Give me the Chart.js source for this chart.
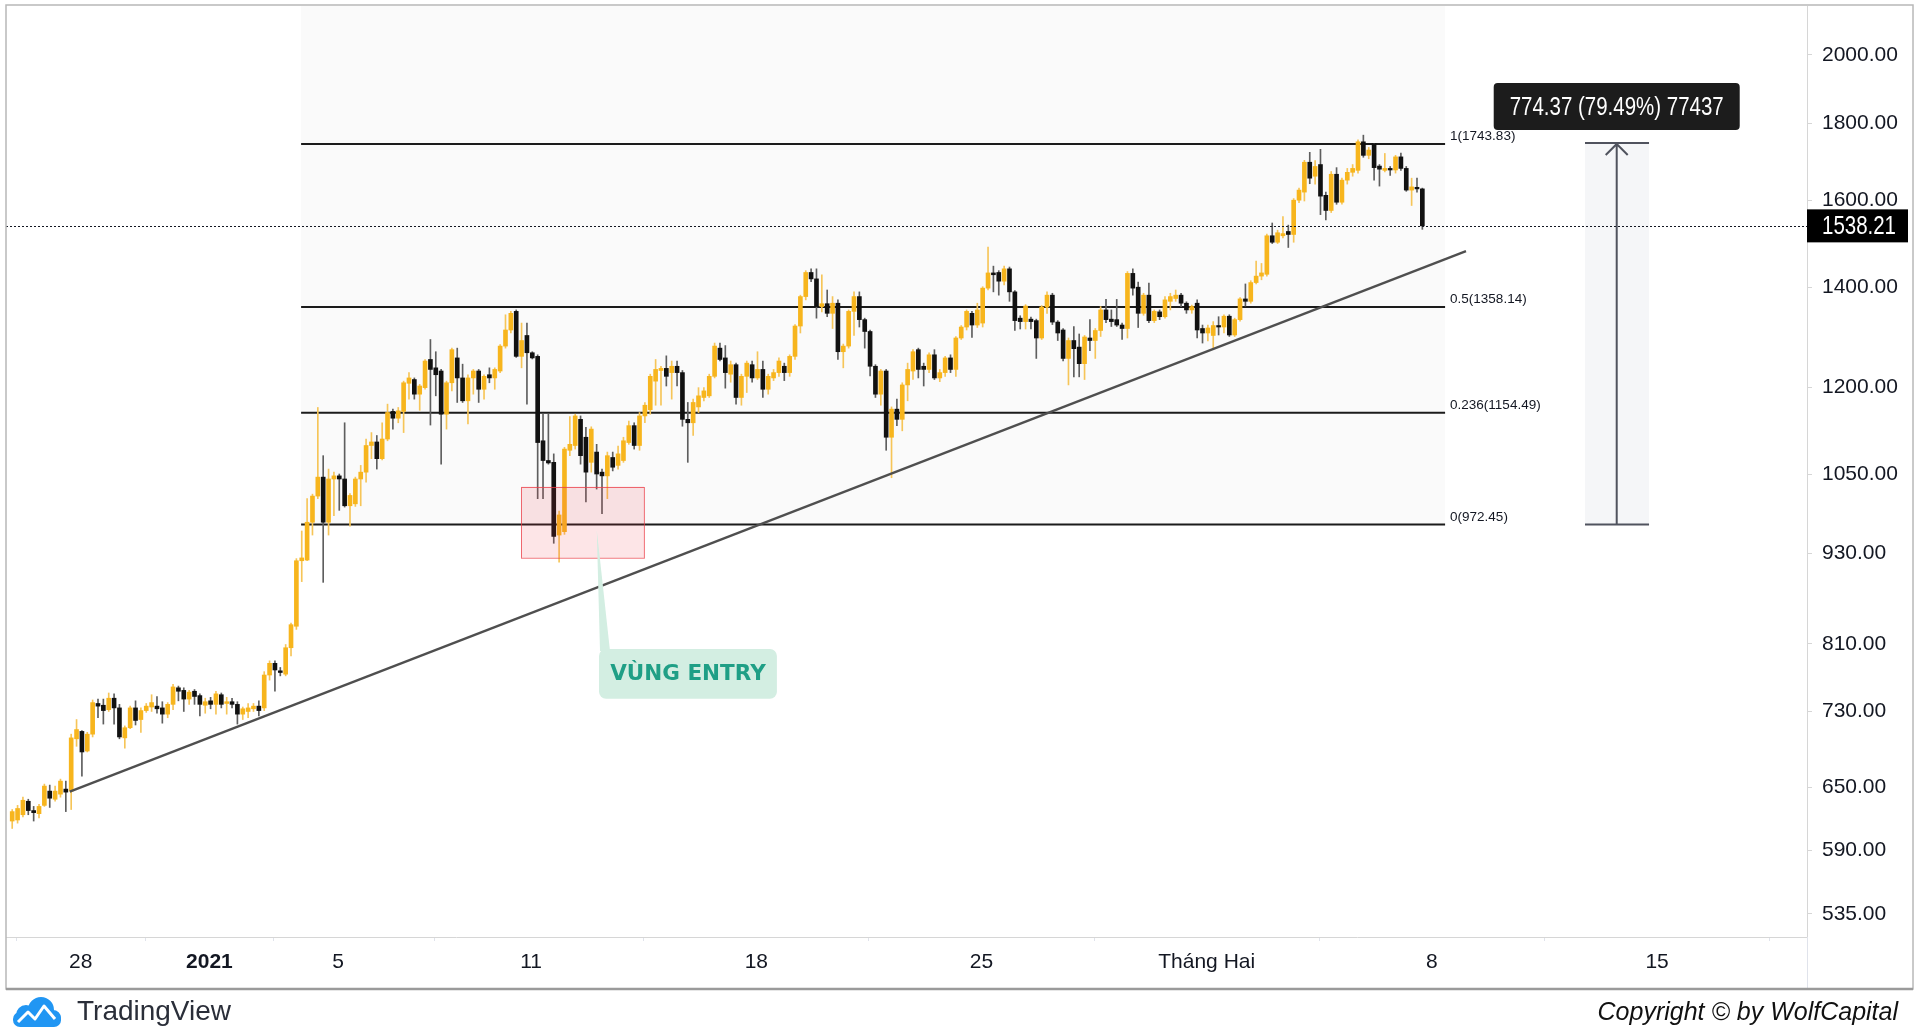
<!DOCTYPE html>
<html>
<head>
<meta charset="utf-8">
<script src="https://cdn.jsdelivr.net/npm/chart.js@4.4.1/dist/chart.umd.min.js"></script>
<style>
    html, body { margin: 0; padding: 0; background: #fff; overflow: hidden; }
    canvas { display: block; }
</style>
</head>
<body>
<canvas id="myChart" width="1920" height="1035" style="width:1920px;height:1035px"></canvas>
<script>
// 4H candles, 25 Dec 2020 -> 7 Feb 2021
const opens = [
    617,618,623,636,627,624,632,646,638,643, 648,646,700,708,687,705,739,737,732,745,
    734,701,712,734,721,731,735,736,734,727, 738,757,754,744,753,748,737,742,738,749,
    739,741,738,727,730,733,736,734,772,786, 777,773,805,832,920,921,976,1016,1046,976,
    1043,1048,1043,1001,1004,1043,1054,1098,1104,1076, 1109,1157,1145,1157,1208,1215,1188,1200,1253,1237,
    1231,1152,1209,1256,1218,1176,1218,1231,1197,1224, 1218,1231,1279,1311,1349,1259,1300,1266,1259,1106,
    1073,1070,957,962,1090,1098,1143,1112,1070,1087, 1054,1048,1078,1065,1073,1103,1132,1098,1149,1160,
    1212,1232,1236,1228,1240,1228,1143,1137,1165,1182, 1185,1221,1275,1256,1225,1243,1182,1221,1243,1218,
    1234,1197,1218,1228,1240,1228,1259,1319,1380,1432, 1418,1359,1365,1345,1366,1268,1279,1349,1380,1332,
    1308,1240,1188,1231,1112,1161,1143,1205,1231,1272, 1240,1234,1262,1218,1228,1256,1234,1295,1317,1345,
    1321,1325,1398,1431,1432,1413,1440,1390,1335,1328, 1333,1330,1295,1358,1383,1327,1311,1255,1290,1277,
    1245,1295,1290,1310,1352,1333,1332,1321,1314,1430, 1400,1345,1383,1330,1348,1338,1370,1376,1383,1366,
    1352,1366,1314,1305,1300,1320,1317,1339,1301,1332, 1375,1370,1410,1424,1428,1515,1500,1515,1525,1518,
    1600,1620,1696,1660,1690,1612,1575,1665,1595,1650, 1670,1675,1750,1714,1745,1686,1675,1680,1676,1710,
    1680,1625,1632,1628
];
const highs = [
    628,632,640,638,631,633,653,652,651,658, 656,705,721,709,707,743,744,744,751,750,
    738,714,736,742,734,739,749,747,741,740, 761,759,757,754,755,750,745,746,753,751,
    746,745,741,735,739,739,742,776,789,789, 781,809,836,923,963,1012,1019,1164,1081,1059,
    1054,1051,1137,1020,1046,1065,1109,1120,1115,1137, 1170,1161,1164,1212,1228,1218,1206,1253,1292,1268,
    1234,1212,1275,1275,1244,1224,1234,1234,1224,1237, 1237,1282,1342,1349,1352,1325,1325,1268,1262,1152,
    1152,1084,993,1095,1148,1152,1149,1129,1130,1100, 1059,1087,1087,1097,1112,1140,1137,1155,1173,1225,
    1253,1240,1260,1250,1250,1232,1173,1179,1200,1200, 1225,1285,1285,1280,1250,1246,1225,1250,1250,1268,
    1250,1225,1234,1256,1246,1262,1322,1383,1436,1440, 1440,1427,1394,1380,1373,1283,1352,1390,1390,1335,
    1311,1243,1234,1234,1165,1179,1209,1246,1272,1275, 1246,1266,1272,1234,1259,1262,1298,1320,1352,1349,
    1366,1401,1489,1446,1436,1446,1444,1393,1340,1363, 1337,1333,1361,1390,1387,1330,1314,1295,1318,1303,
    1300,1332,1314,1359,1374,1352,1374,1325,1434,1440, 1411,1387,1409,1352,1352,1380,1387,1394,1387,1369,
    1362,1373,1321,1321,1328,1338,1342,1342,1335,1378, 1407,1414,1457,1452,1519,1545,1528,1560,1540,1604,
    1630,1701,1722,1700,1730,1620,1672,1682,1655,1680, 1690,1755,1768,1735,1746,1690,1719,1685,1714,1720,
    1685,1655,1655,1630
];
const lows = [
    610,615,621,623,617,620,631,630,636,640, 626,628,692,661,686,702,723,716,730,716,
    700,690,711,715,707,729,730,728,717,723, 732,742,730,738,738,725,728,733,727,734,
    727,734,716,721,723,730,725,731,766,753, 771,771,795,828,891,920,957,1012,890,957,
    986,994,999,970,1000,1001,1038,1076,1059,1074, 1106,1126,1137,1120,1179,1179,1159,1197,1133,1185,
    1067,1126,1194,1173,1173,1135,1188,1173,1179,1209, 1197,1228,1275,1305,1257,1237,1170,1254,1012,1012,
    1067,945,918,958,1081,1092,1067,1007,1054,1027, 989,1012,1056,1059,1070,1100,1092,1090,1137,1152,
    1168,1168,1203,1179,1203,1131,1070,1115,1155,1176, 1182,1218,1250,1199,1210,1170,1168,1191,1210,1215,
    1182,1188,1213,1221,1213,1221,1253,1305,1373,1412, 1335,1348,1338,1314,1253,1237,1275,1300,1317,1275,
    1222,1182,1168,1090,1045,1132,1123,1176,1215,1218, 1203,1228,1215,1211,1221,1228,1221,1292,1311,1296,
    1316,1317,1394,1390,1383,1405,1370,1310,1313,1313, 1313,1255,1292,1345,1322,1290,1250,1205,1220,1220,
    1215,1270,1255,1298,1326,1318,1318,1292,1295,1383, 1316,1341,1326,1326,1332,1335,1352,1370,1359,1345,
    1345,1295,1285,1289,1272,1301,1305,1298,1298,1329, 1360,1366,1407,1416,1424,1497,1497,1510,1488,1500,
    1594,1598,1641,1640,1565,1552,1570,1590,1590,1640, 1660,1668,1709,1705,1650,1635,1671,1662,1668,1675,
    1622,1587,1620,1530
];
const closes = [
    626,629,637,627,625,631,651,639,646,656, 645,701,710,686,705,740,736,731,745,734,
    702,712,734,720,731,736,740,733,727,738, 758,753,744,752,747,738,741,738,750,738,
    741,738,727,733,734,736,731,772,786,778, 775,805,834,920,924,976,1016,1046,976,1043,
    1048,1043,1001,1017,1043,1054,1098,1104,1076,1109, 1155,1145,1158,1209,1218,1188,1203,1250,1234,1224,
    1152,1209,1272,1218,1176,1218,1231,1197,1221,1218, 1234,1279,1311,1345,1259,1290,1266,1256,1103,1073,
    1069,955,987,1092,1100,1149,1081,1054,1126,1051, 1048,1081,1062,1084,1106,1132,1098,1149,1168,1221,
    1234,1236,1221,1240,1228,1143,1137,1173,1185,1194, 1221,1279,1253,1228,1243,1182,1221,1246,1218,1234,
    1197,1221,1228,1250,1228,1259,1319,1380,1432,1418, 1359,1365,1345,1366,1268,1279,1349,1380,1332,1308,
    1240,1188,1231,1112,1161,1143,1205,1234,1268,1234, 1234,1262,1218,1228,1256,1234,1295,1317,1349,1321,
    1352,1398,1431,1427,1413,1440,1390,1330,1328,1360, 1328,1295,1358,1383,1327,1305,1255,1290,1274,1245,
    1297,1290,1310,1352,1332,1328,1321,1314,1430,1398, 1345,1383,1330,1349,1338,1373,1380,1383,1366,1352,
    1359,1311,1305,1315,1320,1317,1339,1301,1332,1375, 1370,1410,1424,1431,1515,1500,1522,1520,1518,1600,
    1625,1696,1655,1685,1610,1575,1665,1595,1650,1670, 1680,1750,1714,1728,1682,1678,1680,1676,1710,1680,
    1625,1633,1628,1538.21
];

// time axis in days from 1 Jan 2021, one candle every 4 hours
const firstCandleDay = -6.13;
const candleStep = 1 / 6;
const candleDays = opens.map((_, i) => firstCandleDay + i * candleStep);

const priceTicks = [535, 590, 650, 730, 810, 930, 1050, 1200, 1400, 1600, 1800, 2000];
const dateTickDays = [-4, 0, 4, 10, 17, 24, 31, 38, 45];
const dateTickLabels = ['28', '2021', '5', '11', '18', '25', 'Tháng Hai', '8', '15'];

// drawings
const fibRatios = ['1', '0.5', '0.236', '0'];
const fibPrices = [1743.83, 1358.14, 1154.49, 972.45];
const fibDays = [2.85, 38.41];
const trendDays = [-4.34, 39.06];
const trendPrices = [645.4, 1479.7];
const measureDays = [42.76, 43.745, 44.75];
const measurePrices = [972.45, 1746.82];
const measureText = '774.37 (79.49%) 77437';
const entryDays = [9.69, 13.51];
const entryPrices = [925, 1031];
const calloutDays = [12.11, 17.64];
const calloutPrices = [744.4, 803.5];
const calloutTip = [12.04, 964.8];
const lastPrice = closes[closes.length - 1];

const FONT = "'Liberation Sans', Arial, sans-serif";
const upColor = '#f7b51d';
const downColor = '#111111';

function roundRect(ctx, x, y, w, h, r) {
    ctx.beginPath();
    ctx.moveTo(x + r, y);
    ctx.arcTo(x + w, y, x + w, y + h, r);
    ctx.arcTo(x + w, y + h, x, y + h, r);
    ctx.arcTo(x, y + h, x, y, r);
    ctx.arcTo(x, y, x + w, y, r);
    ctx.closePath();
}

const drawings = {
    id: 'drawings',
    beforeDatasetsDraw(chart) {
        const { ctx, chartArea: a, scales: { x, y } } = chart;
        ctx.save();
        // fib background
        const fx0 = x.getPixelForValue(fibDays[0]);
        const fx1 = x.getPixelForValue(fibDays[1]);
        ctx.fillStyle = '#fafafa';
        ctx.fillRect(fx0, a.top, fx1 - fx0, y.getPixelForValue(fibPrices[3]) - a.top);

        // measure range background
        const mx0 = x.getPixelForValue(measureDays[0]);
        const mx1 = x.getPixelForValue(measureDays[2]);
        const myTop = y.getPixelForValue(measurePrices[1]);
        const myBot = y.getPixelForValue(measurePrices[0]);
        ctx.fillStyle = '#f5f6f8';
        ctx.fillRect(mx0, myTop, mx1 - mx0, myBot - myTop);

        // fib levels
        ctx.strokeStyle = '#1b1b1b';
        ctx.lineWidth = 2;
        ctx.font = '13.5px ' + FONT;
        ctx.fillStyle = '#131722';
        ctx.textBaseline = 'bottom';
        fibPrices.forEach((p, k) => {
            const py = y.getPixelForValue(p);
            ctx.beginPath();
            ctx.moveTo(fx0, py);
            ctx.lineTo(fx1, py);
            ctx.stroke();
            ctx.fillText(fibRatios[k] + '(' + p.toFixed(2) + ')', fx1 + 5, py - 1);
        });
        ctx.restore();
    },
    afterDatasetsDraw(chart) {
        const { ctx, chartArea: a, scales: { x, y } } = chart;
        ctx.save();

        // entry zone
        const ex0 = x.getPixelForValue(entryDays[0]);
        const ex1 = x.getPixelForValue(entryDays[1]);
        const ey0 = y.getPixelForValue(entryPrices[1]);
        const ey1 = y.getPixelForValue(entryPrices[0]);
        ctx.fillStyle = 'rgba(242, 54, 69, 0.13)';
        ctx.fillRect(ex0, ey0, ex1 - ex0, ey1 - ey0);
        ctx.strokeStyle = 'rgba(235, 60, 70, 0.75)';
        ctx.lineWidth = 1;
        ctx.strokeRect(Math.round(ex0) + 0.5, Math.round(ey0) + 0.5, ex1 - ex0, ey1 - ey0);

        // callout
        const cx0 = x.getPixelForValue(calloutDays[0]);
        const cx1 = x.getPixelForValue(calloutDays[1]);
        const cy0 = y.getPixelForValue(calloutPrices[1]);
        const cy1 = y.getPixelForValue(calloutPrices[0]);
        const tx = x.getPixelForValue(calloutTip[0]);
        const ty = y.getPixelForValue(calloutTip[1]);
        ctx.fillStyle = '#d3eee2';
        ctx.beginPath();
        ctx.moveTo(cx0 + 1, cy0 + 2);
        ctx.lineTo(tx, ty);
        ctx.lineTo(cx0 + 11, cy0 + 2);
        ctx.closePath();
        ctx.fill();
        roundRect(ctx, cx0, cy0, cx1 - cx0, cy1 - cy0, 7);
        ctx.fill();
        ctx.fillStyle = '#1f9f86';
        ctx.font = "bold 21.5px 'DejaVu Sans', sans-serif";
        ctx.textAlign = 'center';
        ctx.textBaseline = 'middle';
        ctx.fillText('VÙNG ENTRY', (cx0 + cx1) / 2, (cy0 + cy1) / 2 + 1, 156);

        // measure arrow
        const mxc = x.getPixelForValue(measureDays[1]);
        const mx0 = x.getPixelForValue(measureDays[0]);
        const mx1 = x.getPixelForValue(measureDays[2]);
        const myTop = y.getPixelForValue(measurePrices[1]);
        const myBot = y.getPixelForValue(measurePrices[0]);
        ctx.strokeStyle = '#50535e';
        ctx.lineWidth = 2;
        ctx.beginPath();
        ctx.moveTo(mx0, myTop); ctx.lineTo(mx1, myTop);
        ctx.moveTo(mx0, myBot); ctx.lineTo(mx1, myBot);
        ctx.moveTo(mxc, myBot); ctx.lineTo(mxc, myTop);
        ctx.moveTo(mxc - 11, myTop + 12); ctx.lineTo(mxc, myTop + 1); ctx.lineTo(mxc + 11, myTop + 12);
        ctx.stroke();

        // measure label
        const bw = 246, bh = 47;
        ctx.fillStyle = '#1c1c1c';
        roundRect(ctx, mxc - bw / 2, myTop - 13 - bh, bw, bh, 4);
        ctx.fill();
        ctx.fillStyle = '#ffffff';
        ctx.font = '26px ' + FONT;
        ctx.fillText(measureText, mxc, myTop - 13 - bh / 2 + 1, 214);

        // last price dotted line
        const py = Math.round(y.getPixelForValue(lastPrice)) + 0.5;
        ctx.strokeStyle = '#131722';
        ctx.lineWidth = 1;
        ctx.setLineDash([2, 2]);
        ctx.beginPath();
        ctx.moveTo(a.left, py);
        ctx.lineTo(a.right, py);
        ctx.stroke();
        ctx.restore();
    },
    afterDraw(chart) {
        const { ctx, chartArea: a, scales: { y } } = chart;
        ctx.save();
        // last price tag on the axis
        const py = y.getPixelForValue(lastPrice);
        ctx.fillStyle = '#000000';
        ctx.fillRect(a.right, py - 16.5, 101, 33);
        ctx.fillStyle = '#ffffff';
        ctx.font = '25px ' + FONT;
        ctx.textBaseline = 'middle';
        ctx.fillText(lastPrice.toFixed(2), a.right + 15, py + 1, 74);

        // frame
        ctx.strokeStyle = '#e0e3eb';
        ctx.lineWidth = 1;
        ctx.beginPath();
        ctx.moveTo(a.right + 0.5, a.bottom);
        ctx.lineTo(a.right + 0.5, 988);
        ctx.stroke();
        ctx.strokeStyle = '#b8b8b8';
        ctx.lineWidth = 1.5;
        ctx.strokeRect(6, 5, 1907, 984);
        ctx.strokeStyle = '#9a9a9a';
        ctx.lineWidth = 2.5;
        ctx.beginPath();
        ctx.moveTo(6, 989); ctx.lineTo(1913, 989);
        ctx.stroke();

        // footer: logo
        ctx.fillStyle = '#2196f3';
        ctx.beginPath();
        ctx.arc(26, 1015, 10, 0, Math.PI * 2);
        ctx.arc(41, 1010, 13, 0, Math.PI * 2);
        ctx.arc(53, 1018, 8, 0, Math.PI * 2);
        ctx.fill();
        roundRect(ctx, 13, 1012, 48, 15, 7);
        ctx.fill();
        ctx.strokeStyle = '#ffffff';
        ctx.lineWidth = 3;
        ctx.lineJoin = 'round';
        ctx.beginPath();
        ctx.moveTo(18, 1022); ctx.lineTo(28, 1012); ctx.lineTo(35, 1019);
        ctx.lineTo(44, 1006); ctx.lineTo(55, 1019);
        ctx.stroke();

        ctx.fillStyle = '#2a2e39';
        ctx.font = "28px 'Liberation Sans', Arial, sans-serif";
        ctx.textBaseline = 'middle';
        ctx.textAlign = 'left';
        ctx.fillText('TradingView', 77, 1012, 154);

        ctx.fillStyle = '#111111';
        ctx.font = "italic 25px 'Liberation Sans', Arial, sans-serif";
        ctx.textAlign = 'right';
        ctx.fillText('Copyright © by WolfCapital', 1898, 1013, 306);
        ctx.restore();
    }
};

const isUp = closes.map((c, i) => c >= opens[i]);

const ctx = document.getElementById('myChart').getContext('2d');
const myChart = new Chart(ctx, {
    type: 'bar',
    data: {
        datasets: [
            {
                type: 'line',
                label: 'Trend',
                data: trendDays.map((d, i) => ({ x: d, y: trendPrices[i] })),
                borderColor: '#4f4f4f',
                borderWidth: 2.4,
                pointRadius: 0,
                order: 0
            },
            {
                label: 'Body',
                data: candleDays.map((d, i) => ({ x: d, y: [Math.min(opens[i], closes[i]), Math.max(opens[i], closes[i])] })),
                backgroundColor: isUp.map(u => u ? upColor : downColor),
                barThickness: 4,
                minBarLength: 1,
                grouped: false,
                order: 1
            },
            {
                label: 'Wick',
                data: candleDays.map((d, i) => ({ x: d, y: [lows[i], highs[i]] })),
                backgroundColor: isUp.map(u => u ? '#f6c558' : '#5e5e5e'),
                barThickness: 1,
                grouped: false,
                order: 2
            }
        ]
    },
    options: {
        responsive: false,
        animation: false,
        devicePixelRatio: 1,
        layout: { padding: { left: 6, top: 6, right: 7, bottom: 47 } },
        scales: {
            x: {
                type: 'linear',
                min: -6.323,
                max: 49.66,
                offset: false,
                bounds: 'data',
                grid: { drawOnChartArea: false, tickLength: 4, tickColor: '#e0e3eb' },
                border: { color: '#d6d6d6' },
                afterBuildTicks: s => { s.ticks = dateTickDays.map(v => ({ value: v })); },
                afterFit: s => { s.height = 51; s.paddingLeft = 0; s.paddingRight = 0; },
                ticks: {
                    autoSkip: false,
                    maxRotation: 0,
                    padding: 9,
                    color: '#131722',
                    font: c => ({ family: FONT, size: 21, weight: (c.tick && c.tick.value === 0) ? 'bold' : 'normal' }),
                    callback: v => dateTickLabels[dateTickDays.indexOf(v)]
                }
            },
            y: {
                type: 'logarithmic',
                position: 'right',
                min: 516.4,
                max: 2155.6,
                bounds: 'data',
                grid: { drawOnChartArea: false, tickLength: 5, tickColor: '#d6d6d6' },
                border: { color: '#d6d6d6' },
                afterBuildTicks: s => { s.ticks = priceTicks.map(v => ({ value: v })); },
                afterFit: s => { s.width = 106; s.paddingTop = 0; s.paddingBottom = 0; },
                ticks: {
                    padding: 10,
                    color: '#131722',
                    font: { family: FONT, size: 21 },
                    callback: v => Number(v).toFixed(2)
                }
            }
        },
        plugins: {
            legend: { display: false },
            tooltip: { enabled: false }
        }
    },
    plugins: [drawings]
});
</script>
</body>
</html>
